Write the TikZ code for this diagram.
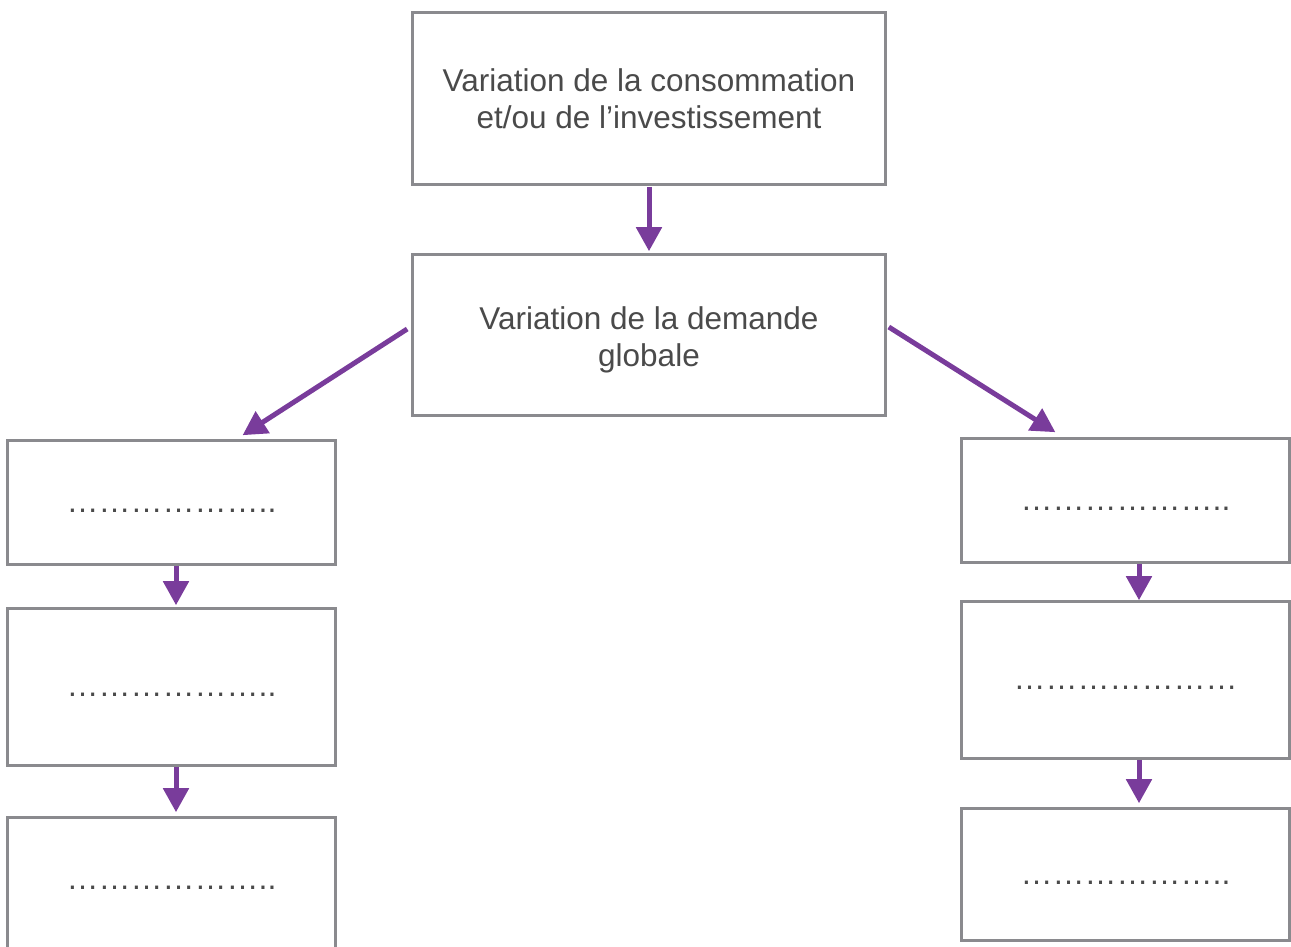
\documentclass[tikz,border=0pt]{standalone}
\usepackage{fontspec}
\setmainfont{Liberation Sans}
\usetikzlibrary{arrows.meta,calc}
\definecolor{boxgray}{RGB}{138,138,142}
\definecolor{txtgray}{RGB}{74,74,74}
\definecolor{arrpurple}{RGB}{121,60,155}
\begin{document}
\begin{tikzpicture}[x=1pt,y=-1pt,
  box/.style={draw=boxgray,line width=2.6pt,fill=white,inner sep=0pt,align=center,
    text=txtgray,font=\fontsize{31.5}{37.5}\selectfont},
  bigbox/.style={box,minimum width=473pt},
  sidebox/.style={box,minimum width=328pt,font=\fontsize{32}{38}\selectfont,
    text height=24pt,text depth=5pt},
  link/.style={draw=arrpurple,line width=5pt,-{Triangle[width=25pt,length=24pt]}}
]
\useasboundingbox (0,0) rectangle (1291,946);
\clip (0,0) rectangle (1291,946);

% central chain
\node[bigbox,minimum height=172pt] (top) at (649,98.5)
  {Variation de la consommation\\et/ou de l’investissement};
\node[bigbox,minimum height=161pt] (mid) at (649,335)
  {\rule{0pt}{33pt}Variation de la demande\\globale};

% left column
\node[sidebox,minimum height=124pt] (l1) at (171.5,502.5) {………………..};
\node[sidebox,minimum height=157pt] (l2) at (171.5,687)   {………………..};
\node[sidebox,minimum height=150pt,text height=10pt,text depth=17pt]
  (l3) at (171.5,892.5) {………………..};

% right column
\node[sidebox,minimum height=124pt] (r1) at (1125.5,500.5) {………………..};
\node[sidebox,minimum height=157pt] (r2) at (1125.5,680)   {…………………};
\node[sidebox,minimum height=132pt] (r3) at (1125.5,874.5) {………………..};

% connectors
\draw[link] ($(top.south)+(0,1)$) -- ($(mid.north)+(0,-2)$);
\draw[link] ($(mid.west)+(-4,-6)$) -- ($(l1.north west)!0.715!(l1.north east)+(0,-4)$);
\draw[link] ($(mid.east)+(2,-8)$) -- ($(r1.north west)!0.288!(r1.north east)+(0,-5)$);
\draw[link] ($(l1.south)+(4.5,0)$) -- ($(l2.north)+(4.5,-2)$);
\draw[link] ($(l2.south)+(4.5,0)$) -- ($(l3.north)+(4.5,-4)$);
\draw[link] ($(r1.south)+(13.5,0)$) -- ($(r2.north)+(13.5,0)$);
\draw[link] ($(r2.south)+(13.5,0)$) -- ($(r3.north)+(13.5,-4)$);
\end{tikzpicture}
\end{document}
